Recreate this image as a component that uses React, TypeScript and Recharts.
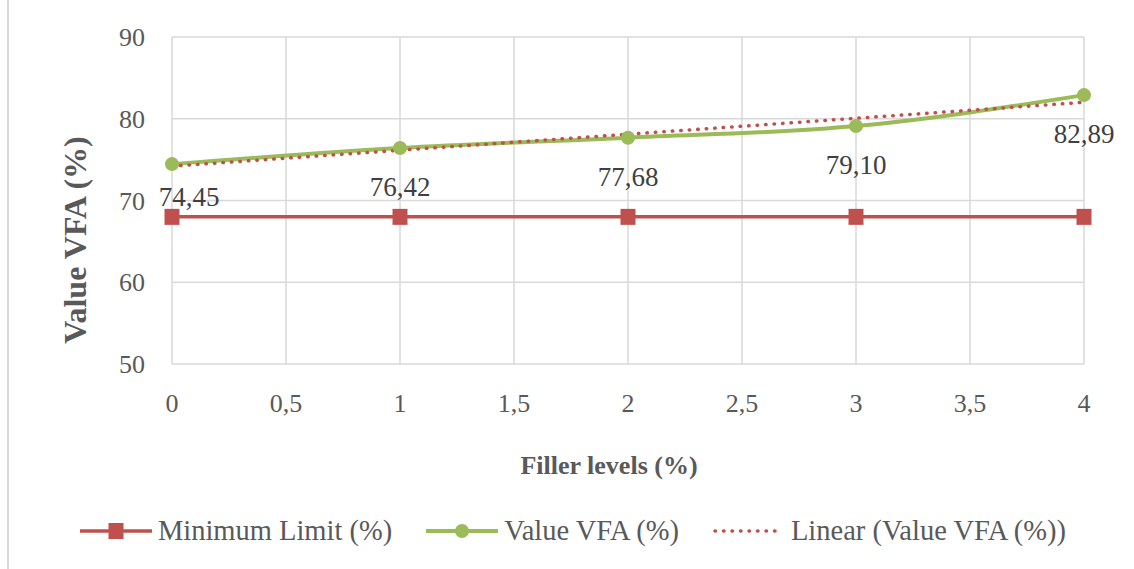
import { LineChart, Line, XAxis, YAxis, CartesianGrid, Legend, LabelList } from 'recharts'

const fillerLevels = [0, 1, 2, 3, 4]
const minimumLimit = [68, 68, 68, 68, 68]
const valueVFA = [74.45, 76.42, 77.68, 79.10, 82.89]
const linearVFA = [74.2, 76.15, 78.11, 80.06, 82.02]

const xTicks = [0, 0.5, 1, 1.5, 2, 2.5, 3, 3.5, 4]
const yTicks = [50, 60, 70, 80, 90]

const RED = '#C0504D'
const GREEN = '#9BBB59'
const FONT = '"Liberation Serif", "Times New Roman", serif'
const SERIES_ORDER = ['min', 'vfa', 'lin']

const rows = fillerLevels.map((x, i) => ({
  x, min: minimumLimit[i], vfa: valueVFA[i], lin: linearVFA[i],
}))

const comma = (v: number, d = 0) => v.toFixed(d).replace('.', ',')

const SquareDot = (p: any) => (
  <rect x={p.cx - 7.5} y={p.cy - 8} width={15} height={16} fill={RED}/>
)

// value labels sit under each point; the first one is nudged off the axis
const VfaLabel = (p: any) => {
  const first = p.index === 0
  return (
    <text x={p.x + (first ? 17 : 0)} y={p.y + (first ? 42 : 48)} textAnchor="middle"
      fontSize={27} fontFamily={FONT} fill="#404040">
      {comma(Number(p.value), 2)}
    </text>
  )
}

const legendIcon = (key: string) => {
  if (key === 'min') return (
    <svg width={72} height={20}>
      <line x1={0} y1={10} x2={72} y2={10} stroke={RED} strokeWidth={3.5}/>
      <rect x={28.5} y={2} width={15} height={16} fill={RED}/>
    </svg>
  )
  if (key === 'vfa') return (
    <svg width={72} height={20}>
      <line x1={0} y1={10} x2={72} y2={10} stroke={GREEN} strokeWidth={4}/>
      <circle cx={36} cy={10} r={7} fill={GREEN}/>
    </svg>
  )
  return (
    <svg width={72} height={20}>
      <line x1={2} y1={10} x2={70} y2={10} stroke={RED} strokeWidth={3.5}
        strokeDasharray="0.5 8" strokeLinecap="round"/>
    </svg>
  )
}

const LegendRow = ({ payload }: any) => {
  const items = [...(payload || [])].sort(
    (a: any, b: any) => SERIES_ORDER.indexOf(a.dataKey) - SERIES_ORDER.indexOf(b.dataKey))
  return (
    <div style={{ display: 'flex', justifyContent: 'center', alignItems: 'center', gap: 34,
      paddingLeft: 12, fontFamily: FONT, fontSize: 28.5, color: '#595959' }}>
      {items.map((e: any) => (
        <div key={e.dataKey} style={{ display: 'flex', alignItems: 'center', gap: 6 }}>
          {legendIcon(e.dataKey)}
          <span>{e.value}</span>
        </div>
      ))}
    </div>
  )
}

export default function App() {
  return (
    <div style={{ position: 'absolute', left: 0, top: 0, width: 1134, height: 569, background: '#fff' }}>
      <div style={{ position: 'absolute', left: 7, top: 0, width: 1.5, height: 569, background: '#d9d9d9' }}/>
      <LineChart width={1134} height={569} data={rows}
        margin={{ top: 37, right: 50, bottom: 145, left: 72 }}>
        <CartesianGrid stroke="#d9d9d9" strokeWidth={1.5}/>
        <XAxis dataKey="x" type="number" domain={[0, 4]} ticks={xTicks} height={60}
          tickFormatter={v => comma(Number(v), Number(v) % 1 ? 1 : 0)}
          axisLine={false} tickLine={false} tickSize={0} tickMargin={30}
          tick={{ fontSize: 26, fontFamily: FONT, fill: '#595959' }}
          label={{ content: ({ viewBox }: any) => (
            <text x={viewBox.x + viewBox.width / 2 - 19} y={viewBox.y + 110} textAnchor="middle"
              fontSize={26} fontWeight="bold" fontFamily={FONT} fill="#595959">Filler levels (%)</text>
          ) }}/>
        <YAxis type="number" domain={[50, 90]} ticks={yTicks} width={100}
          axisLine={false} tickLine={false} tickSize={0} tickMargin={27}
          tick={{ fontSize: 26, fontFamily: FONT, fill: '#595959' }}
          label={{ content: () => (
            <text x={75} y={240} transform="rotate(-90, 75, 240)" textAnchor="middle"
              dominantBaseline="central" fontSize={32} fontWeight="bold" fontFamily={FONT}
              fill="#595959">Value VFA (%)</text>
          ) }}/>
        <Legend verticalAlign="middle" content={<LegendRow/>}
          wrapperStyle={{ left: 0, top: 515, width: 1134 }}/>
        <Line dataKey="min" name="Minimum Limit (%)" type="linear" stroke={RED} strokeWidth={3.5}
          dot={<SquareDot/>} isAnimationActive={false}/>
        <Line dataKey="vfa" name="Value VFA (%)" type="monotone" stroke={GREEN} strokeWidth={4}
          dot={{ r: 7, fill: GREEN, stroke: 'none' }} isAnimationActive={false}>
          <LabelList dataKey="vfa" content={<VfaLabel/>}/>
        </Line>
        <Line dataKey="lin" name="Linear (Value VFA (%))" type="linear" stroke={RED} strokeWidth={3.5}
          strokeDasharray="0.5 8" strokeLinecap="round" dot={false} isAnimationActive={false}/>
      </LineChart>
    </div>
  )
}
